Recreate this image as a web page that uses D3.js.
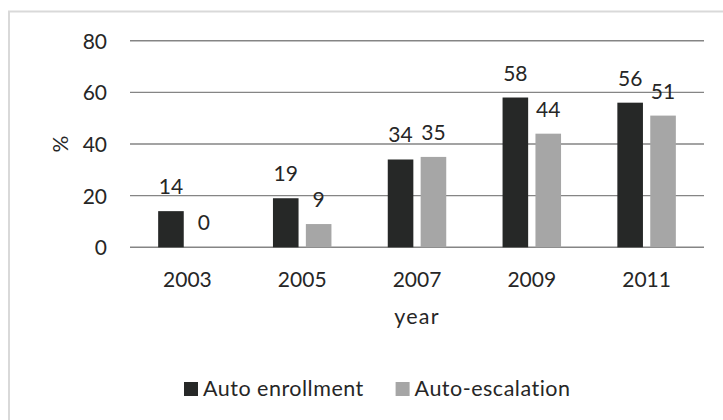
<!DOCTYPE html>
<html>
<head>
<meta charset="utf-8">
<script src="https://cdn.jsdelivr.net/npm/d3@7"></script>
<style>
  html, body { margin: 0; padding: 0; background: #fff; }
  svg { display: block; }
  text { font-family: Lato, "Open Sans", sans-serif; fill: #262626; }
</style>
</head>
<body>
<div id="chart"></div>
<script>
// Share of plans offering automatic features, by survey year
const years = ["2003", "2005", "2007", "2009", "2011"];
const seriesNames = ["Auto enrollment", "Auto-escalation"];
const autoEnrollment = [14, 19, 34, 58, 56];
const autoEscalation = [0, 9, 35, 44, 51];
const yTicks = [0, 20, 40, 60, 80];
const seriesColors = ["#262827", "#a6a6a6"];

const W = 723, H = 420;
const plot = { left: 130, right: 704, top: 40.7, bottom: 247.3 };

const svg = d3.select("#chart").append("svg")
  .attr("width", W).attr("height", H);

// chart frame (runs off the right and bottom edges)
svg.append("rect")
  .attr("x", 9).attr("y", 11.5)
  .attr("width", W + 20).attr("height", H + 20)
  .attr("fill", "#fff")
  .attr("stroke", "#d9d9d9").attr("stroke-width", 2);

const y = d3.scaleLinear().domain([0, 80]).range([plot.bottom, plot.top]);
const x0 = d3.scaleBand().domain(years).range([plot.left, plot.right]).padding(0);
const x1 = d3.scaleBand().domain(seriesNames)
  .range([0, x0.bandwidth()])
  .paddingInner(0.222).paddingOuter(0.856);

// gridlines
svg.append("g")
  .selectAll("line").data(yTicks).join("line")
  .attr("x1", plot.left).attr("x2", plot.right)
  .attr("y1", d => y(d)).attr("y2", d => y(d))
  .attr("stroke", "#858585").attr("stroke-width", 1.4);

// y axis labels
const yAxis = d3.axisLeft(y).tickValues(yTicks).tickSize(0).tickPadding(0);
const gy = svg.append("g").attr("transform", `translate(${plot.left - 23},0)`).call(yAxis);
gy.select(".domain").remove();
gy.selectAll("text").attr("font-size", 21).attr("font-family", "Lato").attr("fill", "#262626")
  .attr("dy", "0.36em");

// x axis labels
const xAxis = d3.axisBottom(x0).tickSize(0).tickPadding(0);
const gx = svg.append("g").attr("transform", `translate(0,${plot.bottom})`).call(xAxis);
gx.select(".domain").remove();
gx.selectAll("text").attr("font-size", 21).attr("font-family", "Lato").attr("fill", "#262626")
  .attr("dy", null).attr("y", 39.4);

// bars
const rows = years.map((yr, i) => ({
  year: yr,
  values: [
    { name: seriesNames[0], v: autoEnrollment[i], c: seriesColors[0] },
    { name: seriesNames[1], v: autoEscalation[i], c: seriesColors[1] }
  ]
}));

const groups = svg.append("g").selectAll("g").data(rows).join("g")
  .attr("transform", d => `translate(${x0(d.year)},0)`);

groups.selectAll("rect").data(d => d.values).join("rect")
  .attr("x", d => x1(d.name))
  .attr("width", x1.bandwidth())
  .attr("y", d => y(d.v))
  .attr("height", d => y(0) - y(d.v))
  .attr("fill", d => d.c);

// value labels
groups.selectAll("text.val").data(d => d.values).join("text")
  .attr("class", "val")
  .attr("x", d => x1(d.name) + x1.bandwidth() / 2)
  .attr("y", d => y(d.v) - 17)
  .attr("text-anchor", "middle")
  .attr("font-size", 21)
  .text(d => d.v);

// axis titles
svg.append("text")
  .attr("transform", `translate(68,${(plot.top + plot.bottom) / 2}) rotate(-90)`)
  .attr("text-anchor", "middle")
  .attr("font-size", 21)
  .text("%");

svg.append("text")
  .attr("x", (plot.left + plot.right) / 2).attr("y", 324)
  .attr("text-anchor", "middle")
  .attr("font-size", 21.5)
  .attr("letter-spacing", 1.2)
  .text("year");

// legend
const legendX = [184, 395.6];
const leg = svg.append("g").selectAll("g").data(seriesNames).join("g")
  .attr("transform", (d, i) => `translate(${legendX[i]},382)`);
leg.append("rect").attr("width", 14).attr("height", 14)
  .attr("fill", (d, i) => seriesColors[i]);
leg.append("text").attr("x", 19).attr("y", 13.5)
  .attr("font-size", 21.5)
  .attr("letter-spacing", 0.5)
  .text(d => d);
</script>
</body>
</html>
